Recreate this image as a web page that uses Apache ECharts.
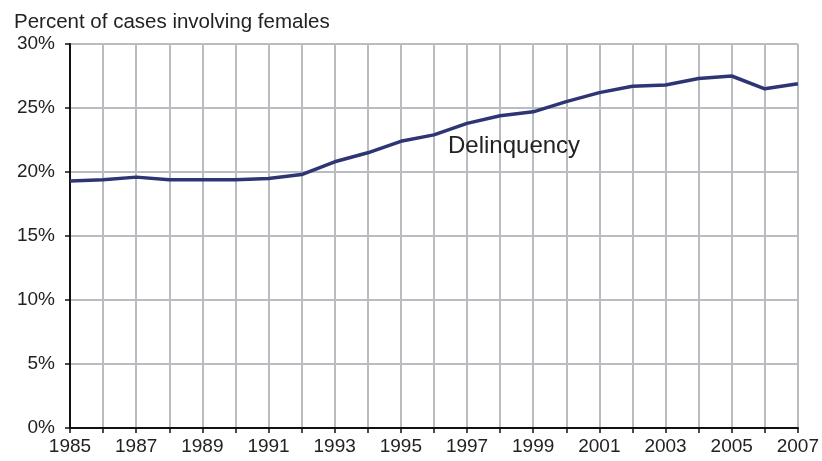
<!DOCTYPE html>
<html>
<head>
<meta charset="utf-8">
<script src="https://cdn.jsdelivr.net/npm/echarts@6/dist/echarts.min.js"></script>
<style>
  html, body { margin: 0; padding: 0; background: #fff; }
  #main { width: 822px; height: 461px; }
</style>
</head>
<body>
<div id="main"></div>
<script>
// years on the x axis
const years = [];
for (let y = 1985; y <= 2007; y++) years.push(String(y));

// percent of delinquency cases involving females
const delinquency = [
  19.3, 19.4, 19.6, 19.4, 19.4, 19.4, 19.5, 19.8, 20.8, 21.5,
  22.4, 22.9, 23.8, 24.4, 24.7, 25.5, 26.2, 26.7, 26.8, 27.3,
  27.5, 26.5, 26.9
];

const axisFont = { fontFamily: 'Liberation Sans', fontSize: 19, color: '#222' };
const gridGrey = '#b9bcc0';

const chart = echarts.init(document.getElementById('main'));

chart.setOption({
  animation: false,
  title: {
    text: 'Percent of cases involving females',
    left: 9,
    top: 7,
    textStyle: { fontFamily: 'Liberation Sans', fontSize: 20.5, fontWeight: 'normal', color: '#222' }
  },
  grid: { left: 70, right: 22, top: 44, bottom: 33 },
  xAxis: {
    type: 'category',
    data: years,
    boundaryGap: false,
    axisLine: { lineStyle: { color: '#111', width: 2 } },
    axisTick: { show: true, interval: 0, length: 5, lineStyle: { color: '#111', width: 1.5 } },
    axisLabel: { interval: 1, margin: 9, ...axisFont },
    splitLine: { show: true, interval: 0, lineStyle: { color: gridGrey, width: 2 } }
  },
  yAxis: {
    type: 'value',
    min: 0,
    max: 30,
    interval: 5,
    axisLine: { show: true, lineStyle: { color: '#111', width: 2 } },
    axisTick: { show: true, length: 5, lineStyle: { color: '#111', width: 1.5 } },
    axisLabel: { formatter: '{value}%', margin: 15, ...axisFont },
    splitLine: { show: true, lineStyle: { color: gridGrey, width: 2 } }
  },
  graphic: [{
    type: 'text',
    left: 448,
    top: 134,
    z: 10,
    style: {
      text: 'Delinquency',
      font: '24px "Liberation Sans"',
      fill: '#222'
    }
  }],
  series: [{
    name: 'Delinquency',
    type: 'line',
    data: delinquency,
    symbol: 'none',
    lineStyle: { color: '#2f3574', width: 3.5 }
  }]
});
</script>
</body>
</html>
